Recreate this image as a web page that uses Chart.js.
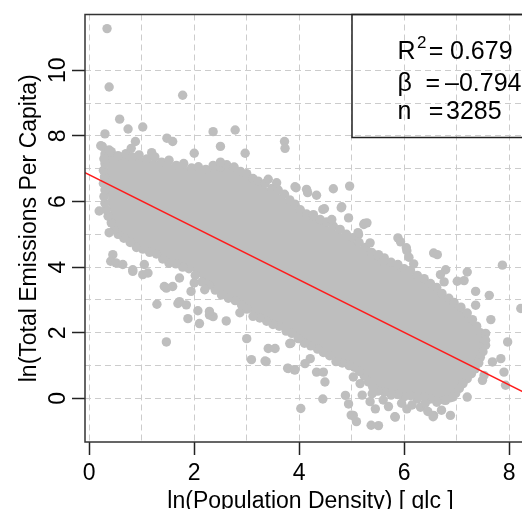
<!DOCTYPE html>
<html>
<head>
<meta charset="utf-8">
<script src="https://cdn.jsdelivr.net/npm/chart.js@4.4.1/dist/chart.umd.min.js"></script>
<style>
  html, body { margin: 0; padding: 0; overflow: hidden; background: #fff; }
</style>
</head>
<body>
<canvas id="chart" width="545" height="520"></canvas>
<script>
// values (x = ln density, y = ln emissions per capita)
const fitLine = [[-0.08, 6.88], [8.51, 0.0]];
const xTickLabels = [0, 2, 4, 6, 8];
const yTickLabels = [0, 2, 4, 6, 8, 10];
const stats = { r2: '0.679', beta: '\u20130.794', n: '3285' };

// solid body of the point cloud (traced outline)
const coreOutline = [
  [0.36,7.42],[0.6,7.37],[1.0,7.32],[1.45,7.17],[1.8,7.07],[2.1,6.97],[2.45,7.02],[2.75,7.0],
  [3.02,6.77],[3.3,6.47],[3.62,6.22],[3.86,5.9],[4.05,5.62],[4.35,5.42],[4.65,5.17],[4.95,4.87],
  [5.25,4.52],[5.55,4.22],[5.85,4.02],[6.05,3.87],[6.3,3.67],[6.55,3.42],[6.78,3.08],[7.02,2.78],
  [7.25,2.45],[7.4,2.05],[7.5,1.6],[7.4,1.12],[7.2,0.65],[7.0,0.3],
  [6.85,0.08],[6.6,-0.07],[6.2,0.08],[5.8,0.18],[5.5,0.28],[5.3,0.52],[5.05,0.97],[4.75,1.17],
  [4.45,1.47],[4.1,1.72],[3.8,2.07],[3.45,2.32],[3.15,2.52],[2.85,2.92],[2.5,3.22],[2.2,3.57],
  [1.88,4.02],[1.52,4.18],[1.22,4.48],[0.88,4.62],[0.6,4.97],[0.45,5.3],
  [0.38,5.85],[0.34,6.5],[0.34,7.2]
];

// points along the rim of the cloud
const edgePoints = [
  [0.30,7.45],[0.42,7.52],[0.55,7.40],[0.70,7.46],[0.82,7.36],[0.95,7.42],[1.10,7.30],[1.25,7.36],
  [1.38,7.20],[1.52,7.26],[1.66,7.10],[1.80,7.16],[1.95,7.02],[2.08,7.06],[2.22,6.98],[2.36,7.10],
  [2.50,7.05],[2.62,7.12],[2.76,7.05],[2.88,6.92],[3.00,6.85],[3.12,6.70],[3.22,6.62],[3.35,6.55],
  [3.48,6.40],[3.60,6.35],[3.72,6.22],[3.82,6.05],[3.92,5.92],[4.02,5.75],[4.14,5.62],[4.26,5.55],
  [4.40,5.45],[4.52,5.38],[4.65,5.25],[4.78,5.15],[4.90,5.00],[5.02,4.90],[5.14,4.75],[5.26,4.60],
  [5.38,4.45],[5.50,4.35],[5.62,4.28],[5.75,4.15],[5.88,4.08],[6.00,3.95],[6.12,3.90],[6.25,3.75],
  [6.38,3.65],[6.50,3.50],[6.62,3.38],[6.72,3.20],[6.85,3.05],[6.95,2.92],[7.08,2.78],[7.20,2.60],
  [7.30,2.40],[7.38,2.20],[7.45,2.00],
  [7.50,1.82],[7.55,1.62],[7.50,1.42],[7.45,1.25],[7.42,1.08],[7.35,0.90],[7.28,0.75],[7.20,0.60],
  [7.12,0.45],[7.05,0.30],[6.98,0.15],
  [6.88,0.02],[6.75,-0.05],[6.62,-0.12],[6.50,-0.02],[6.38,0.05],[6.25,-0.02],[6.12,0.08],[6.00,0.05],
  [5.88,0.12],[5.75,0.10],[5.62,0.20],[5.50,0.22],[5.40,0.35],[5.32,0.50],[5.24,0.68],[5.15,0.82],
  [5.05,0.95],[4.95,1.00],[4.82,1.08],[4.70,1.12],[4.58,1.30],[4.46,1.40],[4.35,1.50],[4.22,1.60],
  [4.10,1.68],[3.98,1.82],[3.86,1.98],[3.75,2.05],[3.62,2.20],[3.50,2.25],[3.38,2.35],[3.25,2.45],
  [3.12,2.50],[3.00,2.72],[2.90,2.85],[2.78,2.98],[2.65,3.05],[2.52,3.15],[2.40,3.30],[2.28,3.45],
  [2.15,3.55],[2.02,3.75],[1.90,3.95],[1.78,4.00],[1.65,4.10],[1.52,4.12],[1.40,4.25],[1.28,4.40],
  [1.15,4.45],[1.02,4.55],[0.90,4.60],[0.78,4.75],[0.66,4.88],[0.55,5.00],[0.48,5.15],[0.42,5.35],
  [0.36,5.55],[0.32,5.75],[0.30,5.95],[0.28,6.15],[0.30,6.35],[0.27,6.55],[0.29,6.75],[0.27,6.95],
  [0.30,7.15],[0.28,7.30]
];

// scattered points away from the main body
const strayPoints = [
  [0.34,11.27],[0.38,9.49],[1.78,9.24],[0.58,8.51],[0.74,8.21],[1.02,8.27],[0.30,8.06],[2.36,8.13],
  [2.78,8.18],[0.88,7.83],[1.48,7.93],[1.59,7.83],[2.50,7.68],[2.00,7.47],[0.25,7.68],[0.38,7.57],
  [0.80,7.62],[3.72,7.83],[3.73,7.62],[2.97,7.47],[1.19,7.49],[2.50,7.20],[0.22,7.70],
  [3.41,6.68],[3.57,6.57],[3.92,6.45],[4.14,6.37],[4.33,6.19],[4.65,6.39],[4.96,6.47],[4.48,5.78],
  [4.81,5.84],[4.94,5.50],[4.62,5.45],[5.23,5.30],[5.29,5.35],[5.13,4.99],[5.35,4.74],[5.51,4.38],
  [5.88,4.89],[5.93,4.77],[6.05,4.50],[6.09,4.30],[6.18,4.10],[6.56,4.43],[6.63,4.38],[7.87,4.06],
  [7.20,3.85],[6.79,3.92],[6.69,3.77],[7.01,3.57],[7.14,3.59],[6.76,3.55],[7.36,3.26],[7.62,3.14],
  [3.94,6.42],[4.16,6.27],[4.45,5.76],[4.80,5.81],[5.24,5.33],[5.12,5.05],[6.04,4.59],[4.27,5.60],
  [5.60,4.18],
  [7.65,2.40],[7.36,2.84],[8.22,2.74],[7.97,1.72],[7.84,1.21],[7.90,0.80],[7.93,0.40],[7.55,1.98],
  [7.55,1.77],[7.68,1.11],[7.52,0.70],[7.49,0.55],[7.20,0.04],[6.92,0.04],[6.79,-0.06],[6.88,-0.52],
  [6.56,-0.52],[5.83,-0.57],[5.51,-0.83],[6.31,-0.27],[6.05,-0.32],[6.71,-0.36],[6.55,-0.56],
  [4.03,-0.31],[4.45,-0.02],[4.99,-0.51],[5.09,-0.71],[5.37,-0.82],[5.82,-0.56],[3.91,0.87],[3.78,0.92],
  [3.37,1.12],[3.84,1.68],[4.49,0.50],[4.21,1.21],[4.11,1.06],[4.33,0.80],[4.46,0.80],[4.88,0.09],
  [4.94,-0.17],[5.03,-0.52],[5.39,0.14],[5.45,-0.32],[5.03,0.65],[5.16,0.45],[2.87,2.61],[3.00,1.82],
  [3.09,1.18],[3.35,1.14],[3.41,1.52],[3.54,1.52],[3.82,1.67],[3.79,0.91],[3.92,0.87],[5.20,0.10],
  [5.35,-0.10],[5.60,-0.05],[5.70,-0.25],[5.95,-0.15],[6.15,-0.20],[6.40,-0.15],[6.45,-0.40],
  [1.29,2.87],[1.69,2.89],[1.88,2.43],[2.07,2.67],[2.10,2.28],[2.29,2.54],[2.36,2.49],[2.61,2.36],
  [1.47,1.72],[1.85,2.85],[1.72,2.95],[2.29,2.65],[0.83,3.87],[1.02,3.77],[1.47,3.36],[0.19,5.71],
  [0.38,5.05],[0.45,4.38],[0.41,4.18],[0.51,4.13],[0.64,4.08],[0.83,3.92],[1.05,4.08],[1.12,3.82],
  [1.43,3.41],[1.59,3.41],[1.72,3.67],[2.00,3.52],[2.20,3.31],[1.94,3.26]
];

const FONT = "'Liberation Sans', Arial, Helvetica, sans-serif";
Chart.defaults.font.family = FONT;
Chart.defaults.color = '#000';

const toXY = pts => pts.map(p => ({ x: p[0], y: p[1] }));
const GREY = '#BEBEBE';

// plot frame + the stats box in the top right corner
const framePlugin = {
  id: 'frame',
  afterDatasetsDraw(chart) {
    const { ctx, chartArea: a } = chart;
    ctx.save();
    ctx.strokeStyle = '#333';
    ctx.lineWidth = 1.5;
    ctx.strokeRect(a.left, a.top, a.right - a.left, a.bottom - a.top);

    const left = a.right - 184, bottom = a.top + 123;
    ctx.strokeStyle = '#222';
    ctx.strokeRect(left, a.top, a.right - left, bottom - a.top);

    ctx.fillStyle = '#000';
    ctx.textBaseline = 'alphabetic';
    ctx.textAlign = 'left';
    const x0 = a.right - 138.5;
    ctx.font = '25px ' + FONT;
    ctx.fillText('R', x0, a.top + 44.3);
    ctx.fillText('=', a.right - 107.3, a.top + 44.3);
    ctx.fillText(stats.r2, a.right - 86, a.top + 44.3);
    ctx.fillText('\u03B2', x0, a.top + 76);
    ctx.fillText('=', a.right - 110.6, a.top + 76);
    ctx.fillText(stats.beta, a.right - 91, a.top + 76);
    ctx.fillText('n', x0, a.top + 104.3);
    ctx.fillText('=', a.right - 107.3, a.top + 104.3);
    ctx.fillText(stats.n, a.right - 90, a.top + 104.3);
    ctx.font = '17px ' + FONT;
    ctx.fillText('2', a.right - 119, a.top + 33);
    ctx.restore();
  }
};

new Chart(document.getElementById('chart'), {
  type: 'scatter',
  data: {
    datasets: [
      {
        data: toXY(fitLine),
        showLine: true,
        borderColor: '#FF1A1A',
        borderWidth: 1.5,
        pointRadius: 0,
        tension: 0
      },
      {
        data: toXY(edgePoints.concat(strayPoints)),
        pointRadius: 4.7,
        pointBackgroundColor: GREY,
        pointBorderWidth: 0,
        showLine: false
      },
      {
        data: toXY(coreOutline),
        showLine: true,
        fill: 'shape',
        backgroundColor: GREY,
        borderColor: GREY,
        borderWidth: 1,
        pointRadius: 0,
        tension: 0
      }
    ]
  },
  options: {
    responsive: false,
    animation: false,
    events: [],
    layout: { padding: { top: 14, right: 9, left: 0, bottom: 0 } },
    plugins: { legend: { display: false }, tooltip: { enabled: false } },
    scales: {
      x: {
        type: 'linear',
        min: -0.08,
        max: 8.51,
        afterFit: s => { s.height = 78; },
        border: { display: false, dash: [6, 4] },
        grid: {
          color: '#CCCCCC',
          lineWidth: 1,
          tickLength: 13,
          tickWidth: 1.5,
          tickBorderDash: [],
          tickColor: c => (c.tick && xTickLabels.includes(c.tick.value)) ? '#222' : 'rgba(0,0,0,0)'
        },
        ticks: {
          stepSize: 1,
          includeBounds: false,
          autoSkip: false,
          maxRotation: 0,
          padding: 5,
          font: { size: 23 },
          color: '#000',
          callback: v => xTickLabels.includes(v) ? String(v) : ''
        },
        title: {
          display: true,
          text: 'ln(Population Density) [ glc ]',
          font: { size: 23 },
          color: '#000',
          padding: { top: 0, bottom: 5 }
        }
      },
      y: {
        type: 'linear',
        min: -1.33,
        max: 11.7,
        afterFit: s => { s.width = 85; },
        border: { display: false, dash: [6, 4] },
        grid: {
          color: c => (c.tick && c.tick.value >= 0 && c.tick.value <= 10) ? '#CCCCCC' : 'rgba(0,0,0,0)',
          lineWidth: 1,
          tickLength: 13,
          tickWidth: 1.5,
          tickBorderDash: [],
          tickColor: c => (c.tick && yTickLabels.includes(c.tick.value)) ? '#222' : 'rgba(0,0,0,0)'
        },
        ticks: {
          stepSize: 1,
          includeBounds: false,
          autoSkip: false,
          minRotation: 90,
          maxRotation: 90,
          crossAlign: 'center',
          padding: 0.7,
          font: { size: 23 },
          color: '#000',
          callback: v => yTickLabels.includes(v) ? String(v) : ''
        },
        title: {
          display: true,
          text: 'ln(Total Emissions Per Capita)',
          font: { size: 23 },
          color: '#000',
          padding: { top: 15.5, bottom: 0 }
        }
      }
    }
  },
  plugins: [framePlugin]
});
</script>
</body>
</html>
